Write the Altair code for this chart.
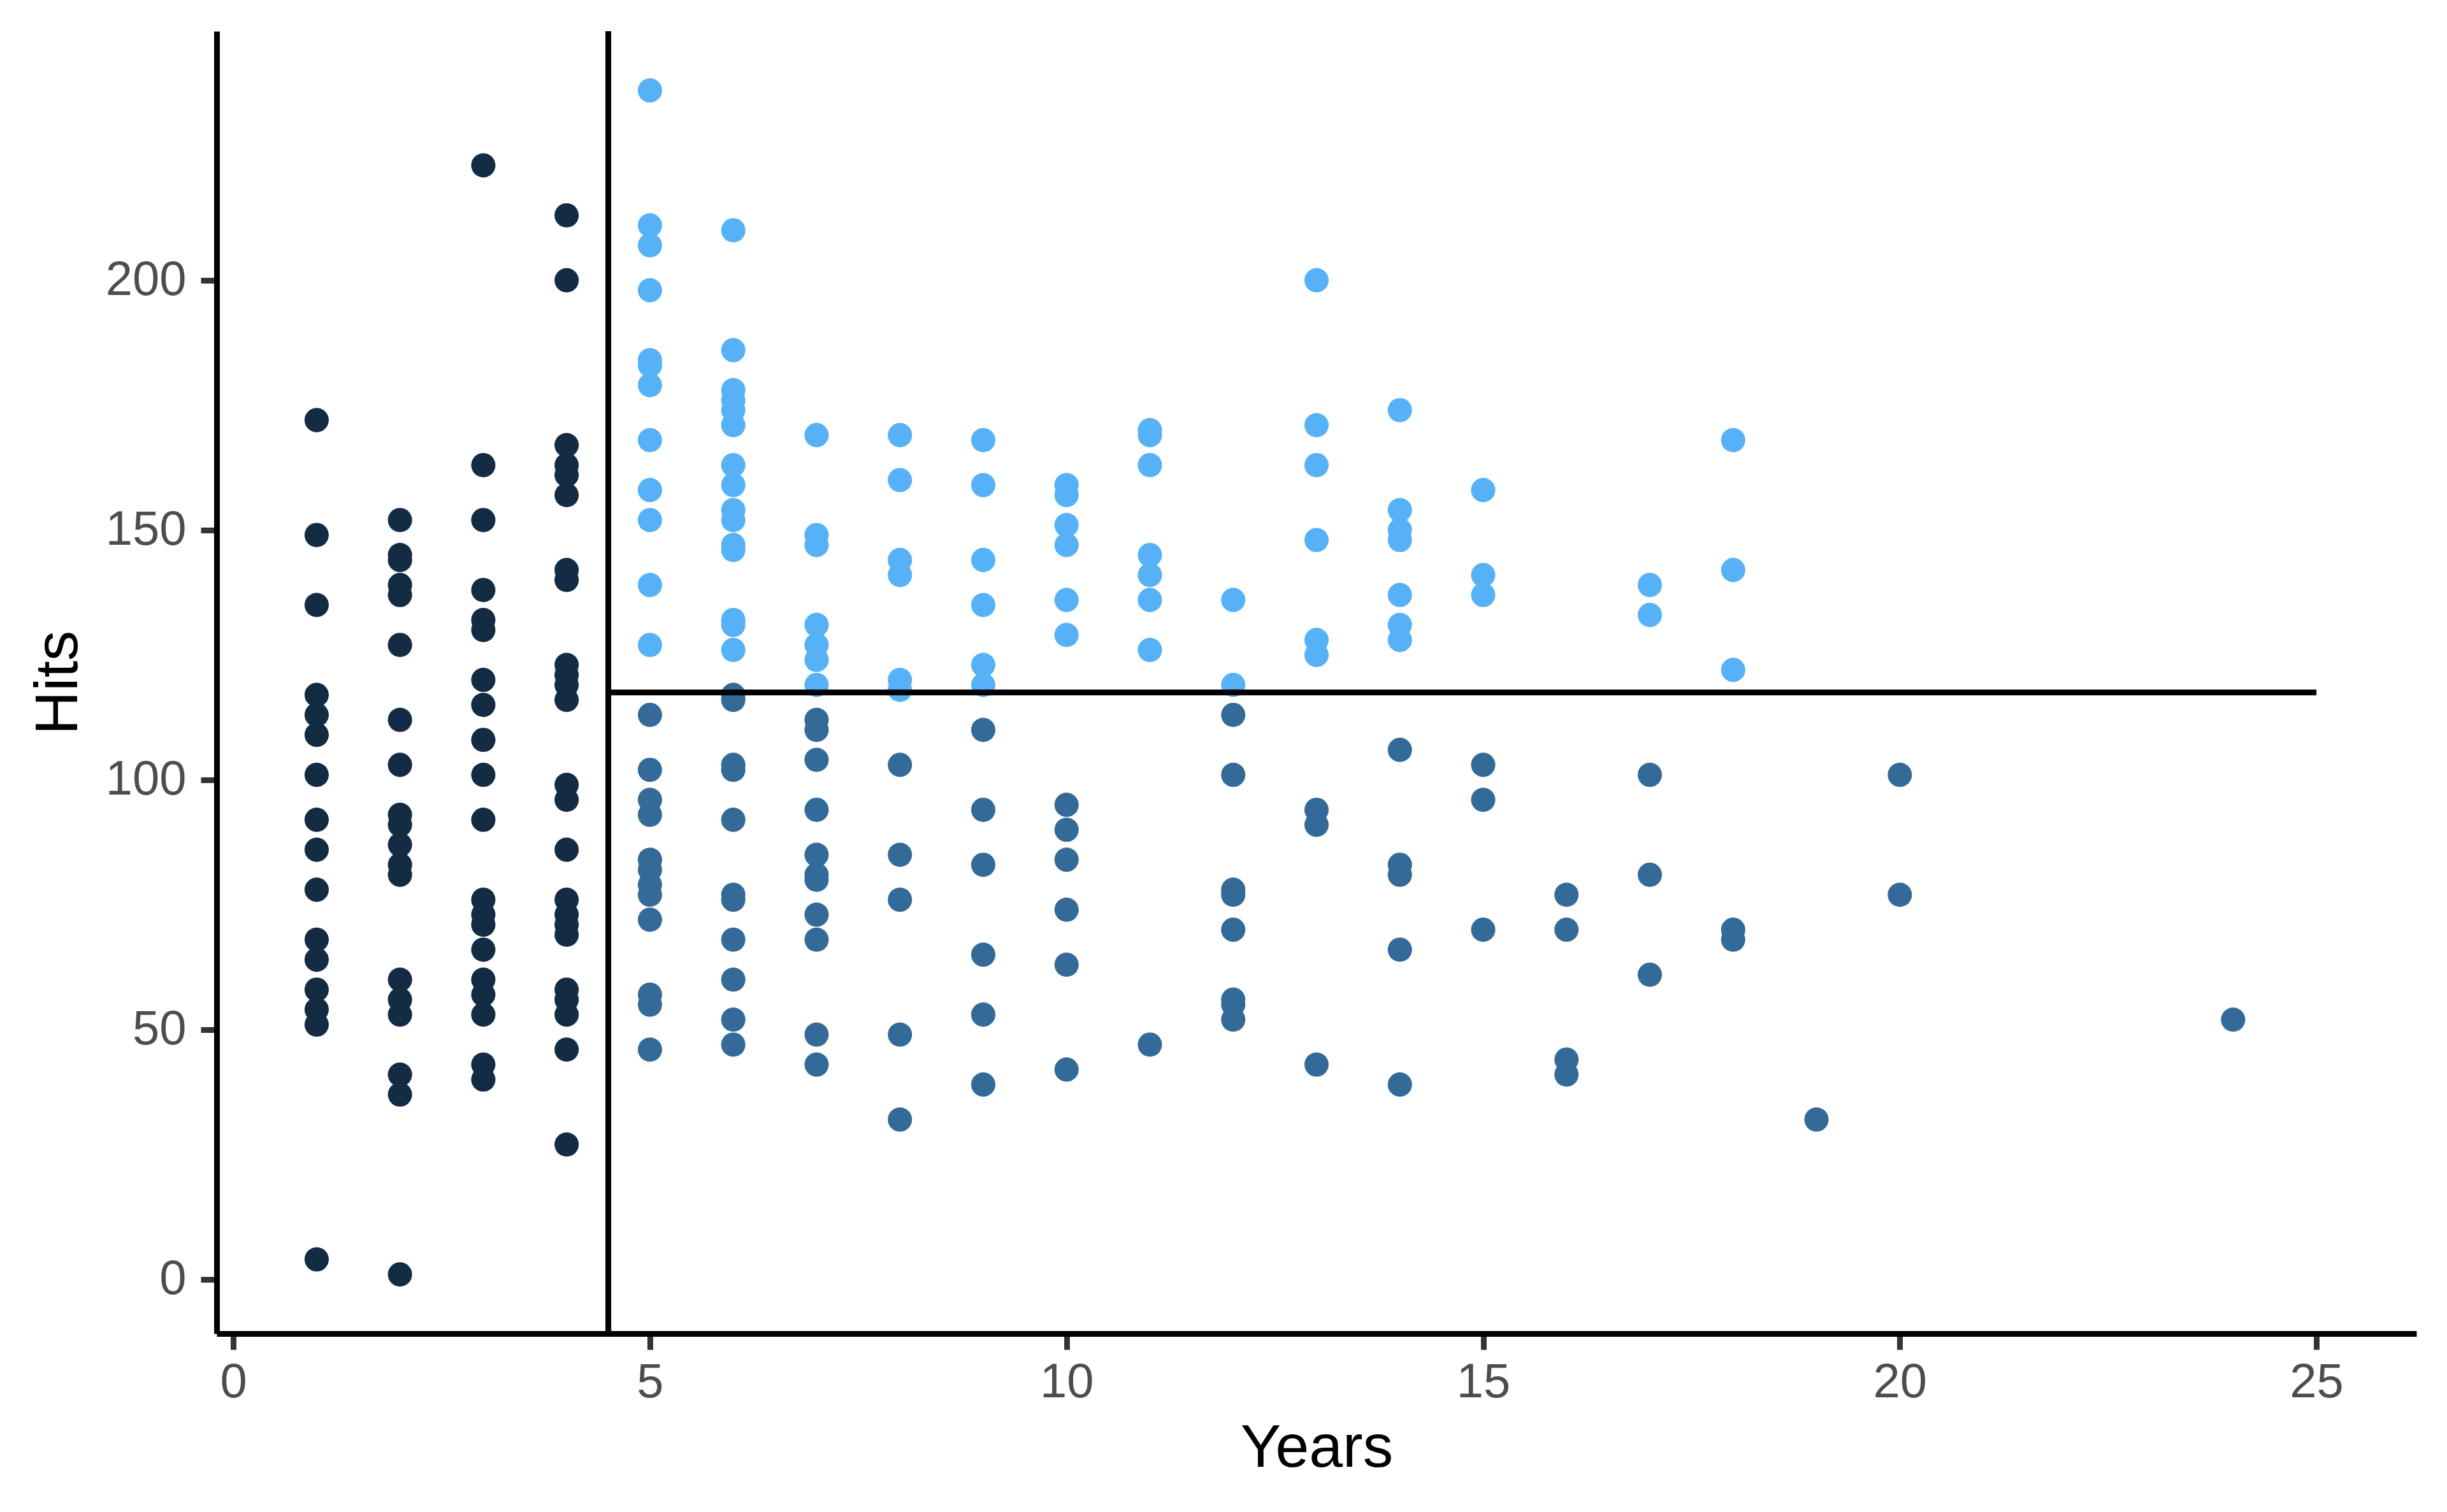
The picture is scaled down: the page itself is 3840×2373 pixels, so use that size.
import altair as alt
import pandas as pd

# Hits per player, grouped by Years of experience
hits_y1 = [172, 149, 135, 117, 113, 109, 101, 92, 86, 78, 68, 64, 58, 54, 51, 4]
hits_y2 = [152, 145, 144, 139, 137, 127, 112, 103, 93, 91, 87, 83, 81, 60, 56, 53, 41, 37, 1]
hits_y3 = [223, 163, 152, 138, 132, 130, 120, 115, 108, 101, 92, 76, 73, 71, 66, 60, 57, 53, 43, 40]
hits_y4 = [213, 200, 167, 163, 161, 157, 142, 140, 123, 121, 119, 116, 99, 96, 86, 76, 73, 71, 69,
           58, 56, 53, 46, 27]
hits_y5 = [238, 211, 207, 198, 184, 183, 179, 168, 158, 152, 139, 127, 113, 102, 96, 93, 84, 82, 79,
           77, 72, 57, 55, 46]
hits_y6 = [210, 186, 178, 176, 174, 171, 163, 159, 154, 152, 147, 146, 132, 131, 126, 117, 116, 103,
           102, 92, 77, 76, 68, 60, 52, 47]
hits_y7 = [169, 149, 147, 131, 127, 124, 119, 112, 110, 104, 94, 85, 81, 80, 73, 68, 49, 43]
hits_y8 = [169, 160, 144, 141, 120, 118, 103, 85, 76, 49, 32]
hits_y9 = [168, 159, 144, 135, 123, 119, 110, 94, 83, 65, 53, 39]
hits_y10 = [159, 157, 151, 147, 136, 129, 95, 90, 84, 74, 63, 42]
hits_y11 = [170, 169, 163, 145, 141, 136, 126, 47]
hits_y12 = [136, 119, 113, 101, 78, 77, 70, 56, 55, 52]
hits_y13 = [200, 171, 163, 148, 128, 125, 94, 91, 43]
hits_y14 = [174, 154, 150, 148, 137, 131, 128, 106, 83, 81, 66, 39]
hits_y15 = [158, 141, 137, 103, 96, 70]
hits_y16 = [77, 70, 44, 41]
hits_y17 = [139, 133, 101, 81, 61]
hits_y18 = [168, 142, 122, 70, 68]
hits_y19 = [32]
hits_y20 = [101, 77]
hits_y24 = [52]

year_values = [1, 2, 3, 4, 5, 6, 7, 8, 9, 10, 11, 12, 13, 14, 15, 16, 17, 18, 19, 20, 24]
hits_by_year = [hits_y1, hits_y2, hits_y3, hits_y4, hits_y5, hits_y6, hits_y7, hits_y8, hits_y9,
                hits_y10, hits_y11, hits_y12, hits_y13, hits_y14, hits_y15, hits_y16, hits_y17,
                hits_y18, hits_y19, hits_y20, hits_y24]

# Regression-tree splits
years_split = 4.5
hits_split = 117.5
hits_segment_end = 25

x_ticks = [0, 5, 10, 15, 20, 25]
y_ticks = [0, 50, 100, 150, 200]

region_names = ["R1", "R2", "R3"]
region_colors = ["#132B43", "#336A97", "#56B1F7"]

rows = []
for yr, hs in zip(year_values, hits_by_year):
    for h in hs:
        if yr < years_split:
            reg = "R1"
        elif h < hits_split:
            reg = "R2"
        else:
            reg = "R3"
        rows.append({"Years": yr, "Hits": h, "region": reg})
df = pd.DataFrame(rows)

xscale = alt.Scale(domain=[-0.2, 26.2], nice=False, zero=False)
yscale = alt.Scale(domain=[-10.85, 249.85], nice=False, zero=False)
xaxis = alt.Axis(values=x_ticks, title="Years", titlePadding=19, labelPadding=14)
yaxis = alt.Axis(values=y_ticks, title="Hits", titlePadding=25, labelPadding=23)

FONT = "Liberation Sans"

points = alt.Chart(df).mark_circle(size=1450, opacity=1).encode(
    x=alt.X("Years:Q", scale=xscale, axis=xaxis),
    y=alt.Y("Hits:Q", scale=yscale, axis=yaxis),
    color=alt.Color("region:N", scale=alt.Scale(domain=region_names, range=region_colors),
                    legend=None),
)

vline = alt.Chart(pd.DataFrame({"Years": [years_split]})).mark_rule(
    color="black", strokeWidth=9
).encode(x=alt.X("Years:Q", scale=xscale, axis=xaxis))

hseg = alt.Chart(pd.DataFrame({"Years": [years_split], "YearsEnd": [hits_segment_end],
                               "Hits": [hits_split]})).mark_rule(
    color="black", strokeWidth=9
).encode(
    x=alt.X("Years:Q", scale=xscale, axis=xaxis),
    x2="YearsEnd:Q",
    y=alt.Y("Hits:Q", scale=yscale, axis=yaxis),
)

chart = alt.layer(points, vline, hseg).properties(
    width=3452, height=2044,
    padding={"left": 36, "top": 36, "right": 5, "bottom": 5},
).configure_view(stroke=None).configure_axis(
    grid=False,
    domainColor="black",
    domainWidth=9,
    tickColor="#333333",
    tickWidth=9,
    tickSize=25,
    labelFont=FONT,
    labelFontSize=76,
    labelColor="#4D4D4D",
    titleFont=FONT,
    titleFontSize=95,
    titleColor="black",
    titleFontWeight="normal",
)

chart.save("out.html", embed_options={"renderer": "svg", "actions": False})
